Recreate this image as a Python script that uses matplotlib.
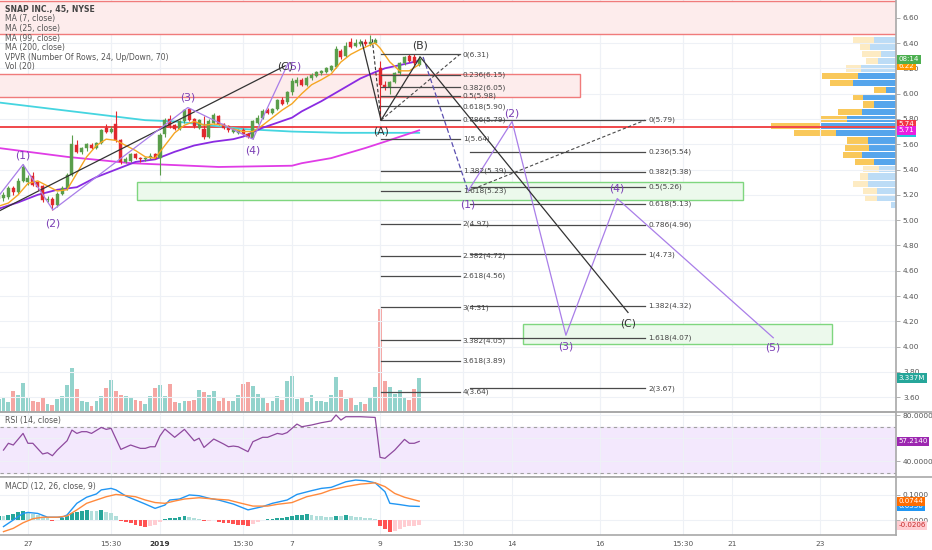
import numpy as np
import matplotlib
matplotlib.use("Agg")
import matplotlib.pyplot as plt
from matplotlib.patches import Rectangle
from matplotlib.lines import Line2D
import matplotlib.transforms as mtrans

plt.rcParams['font.family'] = ['DejaVu Sans']

# ------------------------------------------------------------------ data
opens = [5.17, 5.175, 5.18, 5.25, 5.22, 5.31, 5.30, 5.35, 5.30, 5.27,
         5.16, 5.17, 5.12, 5.21, 5.25, 5.36, 5.59, 5.54, 5.57, 5.59,
         5.57, 5.61, 5.73, 5.70, 5.76, 5.63, 5.46, 5.47, 5.52, 5.49,
         5.48, 5.49, 5.52, 5.49, 5.68, 5.80, 5.75, 5.72, 5.78, 5.88,
         5.80, 5.73, 5.72, 5.66, 5.77, 5.82, 5.76, 5.74, 5.70, 5.69,
         5.71, 5.68, 5.65, 5.77, 5.81, 5.87, 5.85, 5.88, 5.95, 5.93,
         6.01, 6.08, 6.11, 6.07, 6.12, 6.14, 6.16, 6.17, 6.19, 6.21,
         6.34, 6.30, 6.41, 6.38, 6.39, 6.41, 6.39, 6.40, 6.20, 6.07,
         6.05, 6.09, 6.16, 6.24, 6.30, 6.29, 6.23]
highs = [5.21, 5.22, 5.27, 5.27, 5.33, 5.44, 5.36, 5.38, 5.31, 5.28,
         5.19, 5.18, 5.22, 5.27, 5.37, 5.67, 5.63, 5.58, 5.61, 5.61,
         5.62, 5.72, 5.76, 5.74, 5.86, 5.64, 5.50, 5.53, 5.53, 5.50,
         5.50, 5.53, 5.53, 5.69, 5.81, 5.83, 5.76, 5.79, 5.88, 5.89,
         5.81, 5.80, 5.82, 5.80, 5.85, 5.83, 5.77, 5.75, 5.73, 5.72,
         5.73, 5.69, 5.79, 5.83, 5.88, 5.89, 5.89, 5.96, 5.97, 6.02,
         6.12, 6.13, 6.12, 6.14, 6.16, 6.18, 6.19, 6.21, 6.23, 6.38,
         6.35, 6.41, 6.44, 6.43, 6.43, 6.43, 6.46, 6.44, 6.26, 6.10,
         6.10, 6.17, 6.25, 6.30, 6.31, 6.31, 6.30]
lows = [5.15, 5.15, 5.17, 5.20, 5.21, 5.30, 5.28, 5.27, 5.24, 5.14,
        5.14, 5.08, 5.10, 5.20, 5.24, 5.35, 5.53, 5.52, 5.55, 5.56,
        5.56, 5.60, 5.69, 5.69, 5.62, 5.44, 5.45, 5.46, 5.48, 5.46,
        5.47, 5.48, 5.48, 5.36, 5.66, 5.73, 5.71, 5.71, 5.77, 5.78,
        5.73, 5.72, 5.64, 5.65, 5.76, 5.75, 5.72, 5.70, 5.69, 5.68,
        5.67, 5.65, 5.64, 5.76, 5.80, 5.84, 5.84, 5.87, 5.91, 5.92,
        5.99, 6.06, 6.06, 6.06, 6.11, 6.13, 6.15, 6.16, 6.18, 6.20,
        6.27, 6.29, 6.36, 6.37, 6.38, 6.38, 6.38, 6.39, 5.79, 6.03,
        6.00, 6.08, 6.15, 6.23, 6.25, 6.23, 6.22]
closes = [5.19, 5.20, 5.25, 5.22, 5.31, 5.42, 5.33, 5.28, 5.26, 5.16,
          5.17, 5.12, 5.21, 5.25, 5.36, 5.60, 5.54, 5.57, 5.60, 5.57,
          5.61, 5.71, 5.70, 5.72, 5.63, 5.46, 5.48, 5.52, 5.49, 5.48,
          5.49, 5.51, 5.49, 5.67, 5.79, 5.74, 5.72, 5.78, 5.87, 5.79,
          5.74, 5.79, 5.66, 5.78, 5.83, 5.76, 5.73, 5.71, 5.72, 5.71,
          5.68, 5.66, 5.78, 5.81, 5.86, 5.85, 5.88, 5.95, 5.92, 6.01,
          6.10, 6.11, 6.07, 6.12, 6.15, 6.17, 6.18, 6.20, 6.22, 6.35,
          6.29, 6.38, 6.37, 6.40, 6.41, 6.39, 6.41, 6.42, 6.07, 6.05,
          6.09, 6.16, 6.24, 6.29, 6.26, 6.24, 6.27]
volumes_m = [1.30, 1.44, 0.95, 2.09, 1.70, 2.85, 1.50, 1.05, 0.95, 1.37,
             0.78, 0.69, 1.28, 1.60, 2.65, 4.32, 2.26, 1.05, 1.01, 0.62,
             1.11, 1.60, 2.35, 3.14, 2.09, 1.70, 1.54, 1.41, 1.18, 1.11,
             0.78, 1.57, 2.39, 2.68, 1.57, 2.75, 0.95, 0.88, 1.05, 1.11,
             1.18, 2.16, 1.99, 1.70, 2.09, 1.11, 1.37, 1.05, 1.05, 1.70,
             2.75, 2.91, 2.58, 1.77, 1.34, 0.88, 1.11, 1.60, 1.21, 3.07,
             3.53, 1.28, 1.50, 0.95, 1.70, 1.11, 1.05, 0.95, 1.70, 3.47,
             2.16, 1.28, 1.44, 0.69, 1.01, 0.78, 1.50, 2.49, 10.1, 3.01,
             2.42, 1.77, 2.19, 1.44, 1.18, 2.26, 3.337]

ma7_idx = [0, 2, 4, 6, 8, 10, 12, 14, 16, 18, 20, 22, 24, 26, 28, 30, 32, 34, 36, 38,
           40, 42, 44, 46, 48, 50, 52, 54, 56, 58, 60, 62, 64, 66, 68, 70, 72, 74, 76,
           77, 78, 80, 82, 84, 86]
ma7_val = [5.11, 5.135, 5.20, 5.29, 5.31, 5.27, 5.23, 5.24, 5.37, 5.50, 5.59, 5.64,
           5.63, 5.59, 5.55, 5.50, 5.49, 5.59, 5.69, 5.75, 5.78, 5.75, 5.76, 5.75,
           5.72, 5.70, 5.70, 5.75, 5.81, 5.87, 5.92, 6.00, 6.07, 6.11, 6.155, 6.25,
           6.31, 6.35, 6.385, 6.40, 6.36, 6.25, 6.18, 6.18, 6.23]
ma25_idx = [0, 4, 8, 12, 16, 20, 24, 28, 32, 36, 40, 44, 48, 50, 54, 57, 60, 62, 66,
            70, 74, 77, 79, 82, 86]
ma25_val = [5.09, 5.14, 5.20, 5.24, 5.26, 5.34, 5.40, 5.46, 5.48, 5.54, 5.59, 5.62,
            5.64, 5.66, 5.73, 5.77, 5.81, 5.86, 5.94, 6.03, 6.12, 6.17, 6.20, 6.225, 6.26]
ma99_idx = [0, 14, 27, 45, 60, 62, 68, 75, 79, 86]
ma99_val = [5.57, 5.50, 5.45, 5.42, 5.43, 5.45, 5.49, 5.57, 5.62, 5.71]
ma200_idx = [0, 30, 36, 43, 50, 60, 70, 86]
ma200_val = [5.93, 5.79, 5.78, 5.75, 5.72, 5.70, 5.69, 5.69]

rsi_idx = [1, 2, 3, 5, 6, 7, 9, 10, 11, 12, 14, 15, 16, 17, 18, 19, 21, 22, 23, 25,
           27, 28, 29, 30, 31, 32, 33, 34, 36, 38, 40, 41, 42, 44, 46, 47, 48, 49, 51, 52,
           54, 55, 57, 58, 59, 61, 62, 64, 66, 68, 69, 70, 71, 74, 77, 78, 79, 81, 83, 84,
           85, 86]
rsi_val = [49.7, 55.6, 54.1, 64.2, 55.6, 55.6, 46.3, 47.4, 44.8, 49.7, 57.8, 67.1,
           64.2, 65.7, 65.7, 64.2, 69.4, 67.7, 68.6, 50.3, 54.1, 52.6, 51.2, 51.2,
           52.6, 52.6, 62.0, 68.0, 60.8, 67.7, 57.8, 60.0, 52.0, 59.3, 55.0, 52.6,
           53.2, 52.6, 48.3, 57.0, 60.8, 60.8, 64.2, 63.4, 64.9, 72.3, 70.0, 71.5,
           73.5, 75.0, 80.2, 75.8, 78.7, 78.7, 78.1, 43.4, 42.5, 49.7, 59.0, 55.6,
           55.6, 57.214]

macd_idx = [1, 3, 5, 6, 8, 10, 13, 14, 16, 18, 20, 21, 23, 24, 26, 28, 30, 32, 34, 35,
            37, 39, 41, 43, 45, 48, 51, 54, 56, 59, 61, 64, 66, 68, 71, 73, 75, 77, 79,
            80, 82, 84, 86]
macd_val = [-0.026, 0.000, 0.026, 0.030, 0.026, 0.011, 0.011, 0.020, 0.066, 0.090,
            0.103, 0.119, 0.125, 0.119, 0.095, 0.079, 0.063, 0.046, 0.059, 0.079,
            0.083, 0.099, 0.096, 0.086, 0.079, 0.063, 0.040, 0.053, 0.066, 0.079,
            0.101, 0.116, 0.125, 0.129, 0.151, 0.158, 0.155, 0.147, 0.112, 0.066,
            0.061, 0.055, 0.0536]
signal_idx = [1, 3, 5, 7, 9, 12, 14, 16, 18, 20, 22, 24, 25, 28, 30, 32, 34, 36, 38,
              41, 44, 47, 49, 52, 55, 57, 60, 63, 66, 68, 71, 74, 76, 77, 79, 81, 83, 86]
signal_val = [-0.046, -0.033, -0.011, 0.005, 0.011, 0.011, 0.016, 0.040, 0.066, 0.079,
              0.092, 0.101, 0.099, 0.092, 0.079, 0.069, 0.066, 0.075, 0.083, 0.088,
              0.083, 0.079, 0.069, 0.055, 0.055, 0.062, 0.069, 0.092, 0.105, 0.119,
              0.132, 0.142, 0.145, 0.147, 0.132, 0.105, 0.090, 0.0744]
hist_val = [0.017, 0.017, 0.020, 0.024, 0.030, 0.037, 0.026, 0.024, 0.021, 0.013,
            0.008, -0.003, 0.000, 0.007, 0.017, 0.026, 0.030, 0.037, 0.040, 0.037,
            0.037, 0.038, 0.030, 0.026, 0.017, -0.005, -0.008, -0.013, -0.018, -0.022,
            -0.026, -0.025, -0.018, -0.009, 0.005, 0.008, 0.009, 0.011, 0.016, 0.011,
            0.008, 0.004, -0.005, -0.003, 0.001, -0.007, -0.011, -0.013, -0.016, -0.018,
            -0.021, -0.024, -0.016, -0.008, 0.001, 0.003, 0.004, 0.007, 0.008, 0.011,
            0.016, 0.020, 0.021, 0.022, 0.019, 0.016, 0.015, 0.013, 0.012, 0.017,
            0.016, 0.019, 0.015, 0.013, 0.011, 0.008, 0.007, 0.003, -0.022, -0.036,
            -0.049, -0.042, -0.036, -0.029, -0.024, -0.022, -0.0206]

# VPVR (24 rows, top row first)
vp_top, vp_bottom = 6.455, 5.088
vp_up = [22, 26, 15, 18, 35, 38, 43, 10, 33, 22, 34, 49, 76, 60, 28, 27, 34, 22,
         17, 28, 28, 19, 19, 5]
vp_down = [21, 10, 19, 12, 15, 36, 23, 12, 10, 11, 24, 27, 49, 42, 21, 24, 19, 19,
           16, 8, 15, 14, 12, 0]
vp_value_area = list(range(5, 18))

# drawings
left_wave_idx = [0, 5, 11.1, 38.7, 52, 59.2]
left_wave_px = [5.19, 5.44, 5.08, 5.89, 5.64, 6.24]
fut_wave_idx = [96, 105, 116, 126.5, 158.4]
fut_wave_px = [5.23, 5.78, 4.09, 5.17, 4.07]
abc_idx = [78.2, 86.2, 128.7]
abc_px = [5.79, 6.29, 4.27]
trend_idx = [0, 58.6]
trend_px = [5.07, 6.22]

fib1_ratios = ['0', '0.236', '0.382', '0.5', '0.618', '0.786', '1', '1.382', '1.618',
               '2', '2.382', '2.618', '3', '3.382', '3.618', '4']
fib1_prices = [6.31, 6.15, 6.05, 5.98, 5.90, 5.79, 5.64, 5.39, 5.23, 4.97, 4.72, 4.56,
               4.31, 4.05, 3.89, 3.64]
fib1_span = (78.2, 94.3)
fib2_ratios = ['0', '0.236', '0.382', '0.5', '0.618', '0.786', '1', '1.382', '1.618', '2']
fib2_prices = [5.79, 5.54, 5.38, 5.26, 5.13, 4.96, 4.73, 4.32, 4.07, 3.67]
fib2_span = (96.4, 132.2)

tick_idx = [6, 23, 33, 50, 60, 78, 95, 105, 123, 140, 150, 168]
tick_lbl = ['27', '15:30', '2019', '15:30', '7', '9', '15:30', '14', '16', '15:30', '21', '23']

# ------------------------------------------------------------------ layout
W, H = 932, 550
PR = 896
fig = plt.figure(figsize=(W / 100, H / 100), dpi=100)
fig.patch.set_facecolor('white')


def rect(top, bot):
    return [0, 1 - bot / H, PR / W, (bot - top) / H]


ax_vol = fig.add_axes(rect(0, 412))
ax_vp = fig.add_axes(rect(0, 412))
ax = fig.add_axes(rect(0, 412))
ax_rsi = fig.add_axes(rect(412, 477))
ax_macd = fig.add_axes(rect(477, 535))
ax_vol.set_zorder(0)
ax_vp.set_zorder(0.5)
ax.set_zorder(1)
ax.patch.set_visible(False)
ax_vp.patch.set_visible(False)

XL = (0.286, 183.5)
YL = (3.483, 6.740)
for a in (ax, ax_vol, ax_rsi, ax_macd):
    a.set_xlim(*XL)
ax.set_ylim(*YL)
ax_vp.set_ylim(*YL)
ax_vp.set_xlim(PR, 0)
ax_vol.set_ylim(0, 40.4)
ax_rsi.set_ylim(26.3, 82.8)
ax_macd.set_ylim(-0.0593, 0.170)

GRID = '#eef1f6'
SP = '#a8a8a8'
TXT = '#555555'
for a in (ax_vol, ax_vp):
    a.set_xticks([]); a.set_yticks([])
    for s in a.spines.values():
        s.set_visible(False)

for a in (ax, ax_rsi, ax_macd):
    for s in ('top', 'left'):
        a.spines[s].set_visible(False)
    a.spines['right'].set_color(SP); a.spines['right'].set_linewidth(1.2)
    a.spines['bottom'].set_color(SP); a.spines['bottom'].set_linewidth(1.2)
    a.yaxis.tick_right()
    a.set_xticks(tick_idx)
    a.tick_params(axis='y', length=3, width=0.7, color='#b0b0b0', labelsize=5.3,
                  labelcolor=TXT, pad=2)
    a.grid(True, color=GRID, lw=0.8)
    a.set_axisbelow(True)
for a in (ax, ax_rsi):
    a.tick_params(axis='x', length=0, labelbottom=False)

ax_vol.set_facecolor('white')

price_ticks = [3.6, 3.8, 4.0, 4.2, 4.4, 4.6, 4.8, 5.0, 5.2, 5.4, 5.6, 5.8, 6.0, 6.2, 6.4, 6.6]
ax.set_yticks(price_ticks)
ax.set_yticklabels([f'{t:.2f}' for t in price_ticks])
ax_rsi.set_yticks([40, 60, 80])
ax_rsi.set_yticklabels(['40.0000', '', '80.0000'])
ax_macd.set_yticks([0.0, 0.1])
ax_macd.set_yticklabels(['0.0000', '0.1000'])
ax_macd.set_xticklabels(tick_lbl)
ax_macd.tick_params(axis='x', length=0, labelsize=5.3, labelcolor=TXT, pad=4)
ax_macd.get_xticklabels()[2].set_fontweight('bold')
ax_macd.get_xticklabels()[2].set_color('#333333')

for yy in (412, 477):
    fig.add_artist(Line2D([0, 1], [1 - yy / H] * 2, color=SP, lw=1.2))

# ------------------------------------------------------------------ zones
def zone(x0, x1, y0, y1, fc, ec, z=1):
    ax.add_patch(Rectangle((x0, y0), x1 - x0, y1 - y0, facecolor=fc, edgecolor=ec,
                           lw=1.0, zorder=z))

zone(-5, 200, 6.47, 6.735, '#fdecec', '#f07b7b')
zone(-5, 118.9, 5.97, 6.153, '#fdecec', '#f07b7b')
zone(28.3, 152.2, 5.159, 5.301, '#ecf9ec', '#7fd67f')
zone(107.2, 170.4, 4.021, 4.179, '#ecf9ec', '#7fd67f')
ax.axhline(5.735, color='#f0474a', lw=1.4, zorder=2)

# ------------------------------------------------------------------ volume
idx = np.arange(len(opens))
o = np.array(opens); c = np.array(closes); h = np.array(highs); l = np.array(lows)
up = c >= o
ax_vol.bar(idx, volumes_m, width=0.78,
           color=np.where(up, '#93d3cc', '#f5a6a3'), zorder=2)
for t in tick_idx:
    ax_vol.axvline(t, color=GRID, lw=0.8, zorder=0)

# ------------------------------------------------------------------ VPVR
rowh = (vp_top - vp_bottom) / len(vp_up)
centers = vp_top - (np.arange(len(vp_up)) + 0.5) * rowh
in_va = np.array([i in vp_value_area for i in range(len(vp_up))])
ax_vp.barh(centers, vp_up, height=rowh * 0.86, left=0,
           color=np.where(in_va, '#55a5ec', '#bcdcf6'), zorder=2)
ax_vp.barh(centers, vp_down, height=rowh * 0.86, left=vp_up,
           color=np.where(in_va, '#f9c85a', '#fdebc3'), zorder=2)

# ------------------------------------------------------------------ MAs
ax.plot(ma200_idx, ma200_val, color='#45d5e0', lw=1.3, zorder=3)
ax.plot(ma99_idx, ma99_val, color='#e03ce6', lw=1.3, zorder=3)
ax.plot(ma25_idx, ma25_val, color='#8a2be2', lw=1.3, zorder=3)
ax.plot(ma7_idx, ma7_val, color='#f5a623', lw=1.0, zorder=6)

# ------------------------------------------------------------------ candles
GREEN, RED = '#5a9e4b', '#e0282e'
col = np.where(up, GREEN, RED)
ax.vlines(idx, l, h, colors=col, lw=0.8, zorder=4)
ax.bar(idx, np.maximum(np.abs(c - o), 0.006), bottom=np.minimum(o, c), width=0.62,
       color=col, edgecolor=col, lw=0.3, zorder=5)

# ------------------------------------------------------------------ fibs
FIBC = '#4a4a4a'
for r, p in zip(fib1_ratios, fib1_prices):
    ax.plot(fib1_span, [p, p], color=FIBC, lw=0.9, zorder=7)
    ax.text(fib1_span[1] + 0.6, p, f'{r}({p:.2f})', fontsize=5.3, color='#444444',
            va='center', ha='left', zorder=9)
for r, p in zip(fib2_ratios, fib2_prices):
    ax.plot(fib2_span, [p, p], color=FIBC, lw=0.9, zorder=7)
    ax.text(fib2_span[1] + 0.6, p, f'{r}({p:.2f})', fontsize=5.3, color='#444444',
            va='center', ha='left', zorder=9)
ax.plot([fib1_span[0], fib1_span[1]], [fib1_prices[5], fib1_prices[0]], color=FIBC,
        lw=0.8, ls=(0, (3, 2)), zorder=7)
ax.plot([fut_wave_idx[0], fib2_span[1]], [fut_wave_px[0], fib2_prices[0]], color=FIBC,
        lw=0.8, ls=(0, (3, 2)), zorder=7)

# ------------------------------------------------------------------ waves
PURL = '#a97ee8'
PURT = '#7b3fb5'
BLK = '#333333'
ax.plot(trend_idx, trend_px, color=BLK, lw=0.9, zorder=7)
ax.plot(left_wave_idx, left_wave_px, color=PURL, lw=0.9, zorder=7)
ax.plot(fut_wave_idx, fut_wave_px, color=PURL, lw=0.9, zorder=7)
ax.plot([abc_idx[1] + 0.6, fut_wave_idx[0]], [abc_px[1], fut_wave_px[0]],
        color='#5b4fb0', lw=0.9, ls=(0, (4, 2)), zorder=7)
ax.plot(abc_idx, abc_px, color=BLK, lw=0.9, zorder=7)
ax.plot([74.3, abc_idx[0]], [6.41, abc_px[0]], color=BLK, lw=0.9, zorder=7)
ax.plot([76.4, abc_idx[0]], [6.43, abc_px[0]], color=BLK, lw=0.8, ls=(0, (3, 2)), zorder=7)


def lab(x, y, s, dy, color):
    ax.annotate(s, (x, y), xytext=(0, dy), textcoords='offset pixels', fontsize=7.8,
                color=color, ha='center', va='center', zorder=10)


wave_names = ['(1)', '(2)', '(3)', '(4)', '(5)']
left_off = [9, -14, 10, -11]
for k in range(4):
    lab(left_wave_idx[k + 1], left_wave_px[k + 1], wave_names[k], left_off[k], PURT)
lab(58.6, 6.214, '(C)', 0, BLK)
lab(60.4, 6.214, '(5)', 0, PURT)
fut_off = [-13, 8, -11, 10, -10]
for k in range(5):
    lab(fut_wave_idx[k], fut_wave_px[k], wave_names[k], fut_off[k], PURT)
for k, (nm, off) in enumerate(zip(['(A)', '(B)', '(C)'], [-11, 11, -11])):
    lab(abc_idx[k], abc_px[k], nm, off, BLK)

# ------------------------------------------------------------------ RSI
ax_rsi.axhspan(30, 70, color='#f3e8fd', zorder=0.5)
ax_rsi.axhline(70, color='#a0a0a0', lw=0.8, ls=(0, (3, 3)), zorder=1)
ax_rsi.axhline(30, color='#a0a0a0', lw=0.8, ls=(0, (3, 3)), zorder=1)
ax_rsi.plot(rsi_idx, rsi_val, color='#8e4a9e', lw=0.9, zorder=3)

# ------------------------------------------------------------------ MACD
hcols = []
for i, v in enumerate(hist_val):
    prev = hist_val[i - 1] if i > 0 else -1
    if v >= 0:
        hcols.append('#26a69a' if v > prev else '#b2dfdb')
    else:
        hcols.append('#ff5252' if v < prev else '#ffcdd2')
ax_macd.bar(idx, hist_val, width=0.78, color=hcols, zorder=2)
ax_macd.plot(macd_idx, macd_val, color='#2196f3', lw=1.0, zorder=3)
ax_macd.plot(signal_idx, signal_val, color='#ff8a3d', lw=1.0, zorder=3)

# ------------------------------------------------------------------ texts
legend = ['MA (7, close)', 'MA (25, close)', 'MA (99, close)', 'MA (200, close)',
          'VPVR (Number Of Rows, 24, Up/Down, 70)', 'Vol (20)']
fig.text(5 / W, 1 - 9.3 / H, 'SNAP INC., 45, NYSE', fontsize=5.6, fontweight='bold',
         color='#444444', va='center', ha='left')
for k, s in enumerate(legend):
    fig.text(5 / W, 1 - (18.9 + 9.6 * k) / H, s, fontsize=5.6, color=TXT,
             va='center', ha='left')
fig.text(5 / W, 1 - 421 / H, 'RSI (14, close)', fontsize=5.6, color=TXT, va='center')
fig.text(5 / W, 1 - 487 / H, 'MACD (12, 26, close, 9)', fontsize=5.6, color=TXT,
         va='center')


def rbox(axis, ytr, yval, text, fc, tc='white'):
    tr = mtrans.blended_transform_factory(axis.transAxes, ytr)
    axis.text(1.0 + 2.5 / PR, yval, text, transform=tr, fontsize=5.1, color=tc,
              va='center', ha='left', zorder=20, clip_on=False,
              bbox=dict(boxstyle='square,pad=0.22', fc=fc, ec='none'))


rbox(ax, ax.transData, 6.22, '6.22', '#ff9800')
rbox(ax, ax.transData, 6.27, '08:14', '#4caf50')
rbox(ax, ax.transData, 5.69, '5.69', '#26c6da')
rbox(ax, ax.transData, 5.757, '5.74', '#f23645')
rbox(ax, ax.transData, 5.71, '5.71', '#e91ee0')
rbox(ax, ax_vol.transData, 3.337, '3.337M', '#26a69a')
rbox(ax_rsi, ax_rsi.transData, 57.214, '57.2140', '#9c27b0')
rbox(ax_macd, ax_macd.transData, 0.0536, '0.0536', '#2196f3')
rbox(ax_macd, ax_macd.transData, 0.0744, '0.0744', '#ff6d00')
rbox(ax_macd, ax_macd.transData, -0.0206, '-0.0206', '#ffcdd2', tc='#c62828')

fig.savefig('out.png', dpi=100, facecolor='white')
